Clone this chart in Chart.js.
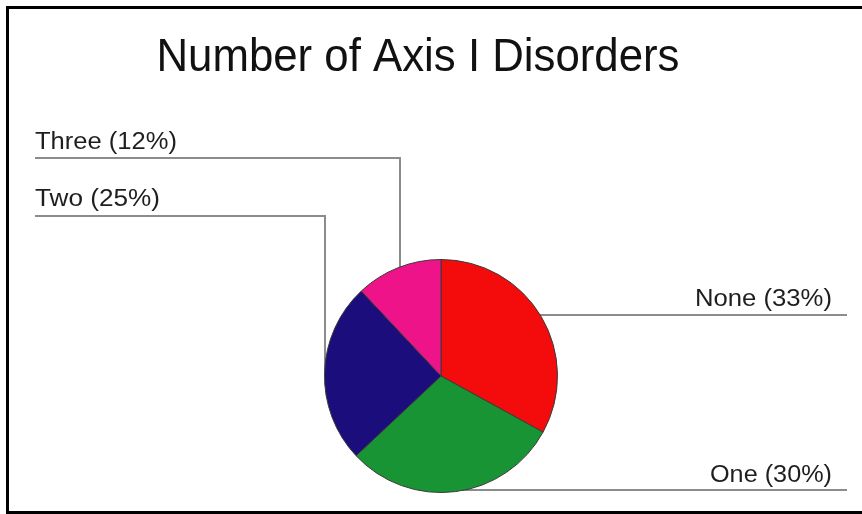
<!DOCTYPE html>
<html>
<head>
<meta charset="utf-8">
<title>Number of Axis I Disorders</title>
<script src="https://cdn.jsdelivr.net/npm/chart.js@4/dist/chart.umd.min.js"></script>
<style>
  html, body { margin: 0; padding: 0; background: #fff; }
  canvas { display: block; }
</style>
</head>
<body>
<canvas id="pie" width="862" height="514"></canvas>
<script>
// --- data ---
const titleText = 'Number of Axis I Disorders';
const categories = ['None', 'One', 'Two', 'Three'];
const shares = [33, 30, 25, 12];
const sliceColors = ['#f40b0b', '#189434', '#1c0d7c', '#ee1388'];

// --- callout layout (one entry per category, same order) ---
const callouts = [
    { side: 'right', lineY: 315, lineEnd: 847, textX: 832, baseline: 306, fitWidth: 137 },
    { side: 'right', lineY: 490, lineEnd: 847, textX: 832, baseline: 482, fitWidth: 122 },
    { side: 'left', lineY: 216, lineStart: 35, elbowX: 325, textX: 35, baseline: 206, fitWidth: 125 },
    { side: 'left', lineY: 158, lineStart: 35, elbowX: 400, textX: 35, baseline: 149, fitWidth: 142 }
];

const FONT = "'Liberation Sans', Arial, sans-serif";

// draw text squeezed/stretched horizontally so it spans exactly `width`
const fitText = (ctx, text, x, y, width, align) => {
    const natural = ctx.measureText(text).width;
    const sx = width / natural;
    ctx.save();
    const left = align === 'right' ? x - width : align === 'center' ? x - width / 2 : x;
    ctx.translate(left, y);
    ctx.scale(sx, 1);
    ctx.textAlign = 'left';
    ctx.textBaseline = 'alphabetic';
    ctx.fillText(text, 0, 0);
    ctx.restore();
};

const framePlugin = {
    id: 'frame',
    beforeDraw(chart) {
        const { ctx, width, height } = chart;
        ctx.save();
        ctx.fillStyle = '#fff';
        ctx.fillRect(0, 0, width, height);
        ctx.fillStyle = '#000';
        ctx.fillRect(6, 6, width - 6, 3);          // top
        ctx.fillRect(6, 6, 3, height - 6);         // left
        ctx.fillRect(6, height - 3, width - 6, 3); // bottom
        ctx.fillStyle = '#111';
        ctx.font = '47px ' + FONT;
        fitText(ctx, titleText, 418, 71, 523, 'center');
        ctx.restore();
    }
};

const leaderPlugin = {
    id: 'leaders',
    beforeDatasetsDraw(chart) {
        const arc = chart.getDatasetMeta(0).data[0];
        const cx = arc.x, cy = arc.y, r = arc.outerRadius;
        const { ctx } = chart;
        ctx.save();
        ctx.strokeStyle = '#8c8c8c';
        ctx.lineWidth = 2;
        callouts.forEach(c => {
            ctx.beginPath();
            if (c.side === 'right') {
                const dy = c.lineY - cy;
                const edge = cx + Math.sqrt(Math.max(r * r - dy * dy, 0));
                ctx.moveTo(edge - 4, c.lineY);
                ctx.lineTo(c.lineEnd, c.lineY);
            } else {
                const dx = c.elbowX - cx;
                const edge = cy - Math.sqrt(Math.max(r * r - dx * dx, 0));
                ctx.moveTo(c.lineStart, c.lineY);
                ctx.lineTo(c.elbowX, c.lineY);
                ctx.lineTo(c.elbowX, edge + 4);
            }
            ctx.stroke();
        });
        ctx.restore();
    },
    afterDatasetsDraw(chart) {
        const { ctx } = chart;
        ctx.save();
        ctx.fillStyle = '#1e1e1e';
        ctx.font = '23px ' + FONT;
        callouts.forEach((c, i) => {
            const label = `${categories[i]} (${shares[i]}%)`;
            fitText(ctx, label, c.textX, c.baseline, c.fitWidth, c.side === 'right' ? 'right' : 'left');
        });
        ctx.restore();
    }
};

new Chart(document.getElementById('pie'), {
    type: 'pie',
    data: {
        labels: categories,
        datasets: [{
            data: shares,
            backgroundColor: sliceColors,
            borderColor: '#3a3a3a',
            borderWidth: 1
        }]
    },
    options: {
        responsive: false,
        animation: false,
        layout: { padding: { left: 324, right: 304, top: 259, bottom: 21 } },
        plugins: {
            legend: { display: false },
            title: { display: false },
            tooltip: { enabled: false }
        }
    },
    plugins: [framePlugin, leaderPlugin]
});
</script>
</body>
</html>
